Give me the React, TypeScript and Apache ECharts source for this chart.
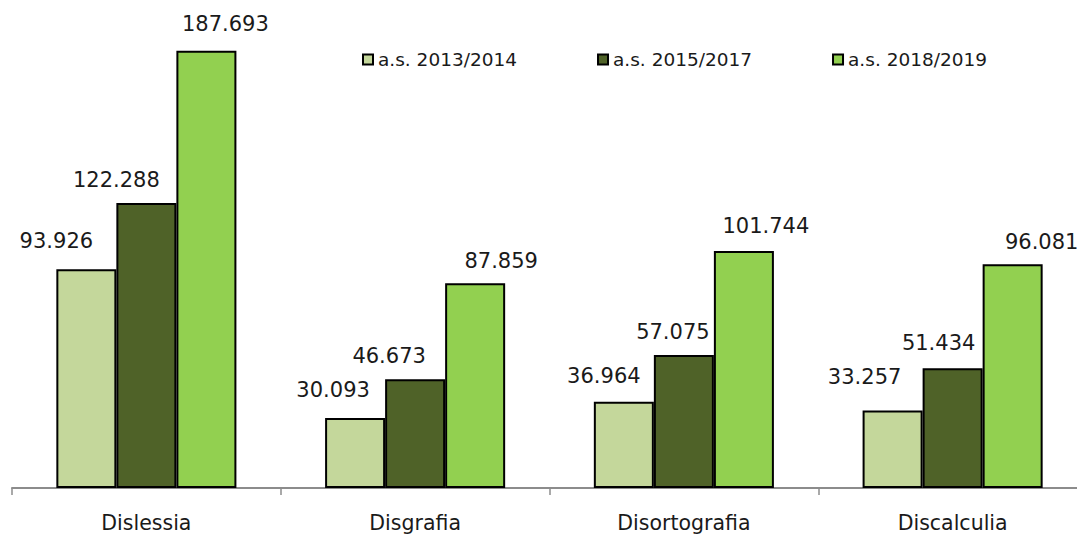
import React, { useEffect, useRef } from "react";
import * as echarts from "echarts";

const categories = ["Dislessia", "Disgrafia", "Disortografia", "Discalculia"];
const seriesNames = ["a.s. 2013/2014", "a.s. 2015/2017", "a.s. 2018/2019"];
const values2013 = [93.926, 30.093, 36.964, 33.257];
const values2015 = [122.288, 46.673, 57.075, 51.434];
const values2018 = [187.693, 87.859, 101.744, 96.081];

const colors = ["#c4d79b", "#4f6228", "#92d050"];
// manual label nudges (style only), [dx, dy] per bar
const labelNudges = [
  [[-30, -4], [-22, -3], [-20, -1], [-28, -9]],
  [[-30, 1], [-26, 1], [-11, 1], [-14, -1]],
  [[19, -2], [26, 2], [22, 0], [29, 2]],
];

const fmt = (v: number) => v.toFixed(3);

export default function App() {
  const ref = useRef<HTMLDivElement>(null);
  useEffect(() => {
    document.body.style.margin = "0";
    document.body.style.overflow = "hidden";
    const chart = echarts.init(ref.current!, undefined, { renderer: "svg" });
    const all = [values2013, values2015, values2018];
    const font = "DejaVu Sans";
    chart.setOption({
      animation: false,
      backgroundColor: "#ffffff",
      legend: {
        left: 357,
        top: 45,
        itemWidth: 10,
        itemHeight: 10,
        itemGap: 80,
        icon: "rect",
        textStyle: { fontFamily: font, fontSize: 18.5, color: "#1a1a1a", padding: [0, 0, 0, 0] },
        data: seriesNames,
      },
      grid: { left: 12, right: 1, top: 22, bottom: 47 },
      xAxis: {
        type: "category",
        data: categories,
        axisLine: { lineStyle: { color: "#8c8c8c", width: 2 } },
        axisTick: {
          show: true,
          interval: 0,
          alignWithLabel: false,
          length: 7,
          lineStyle: { color: "#8c8c8c", width: 1.5 },
        },
        axisLabel: { fontFamily: font, fontSize: 20.5, color: "#1a1a1a", margin: 24 },
      },
      yAxis: { type: "value", min: 0, max: 200, show: false, splitLine: { show: false } },
      series: all.map((vals, s) => ({
        name: seriesNames[s],
        type: "bar",
        barGap: "0%",
        barCategoryGap: "33%",
        itemStyle: { color: colors[s], borderColor: "#000000", borderWidth: 2 },
        label: {
          show: true,
          position: "top",
          distance: 14,
          fontFamily: font,
          fontSize: 21,
          color: "#1a1a1a",
          formatter: (p: any) => fmt(p.value),
        },
        data: vals.map((v, i) => ({ value: v, label: { offset: labelNudges[s][i] } })),
      })),
    });
    return () => chart.dispose();
  }, []);
  return <div ref={ref} style={{ width: 1088, height: 535 }} />;
}
